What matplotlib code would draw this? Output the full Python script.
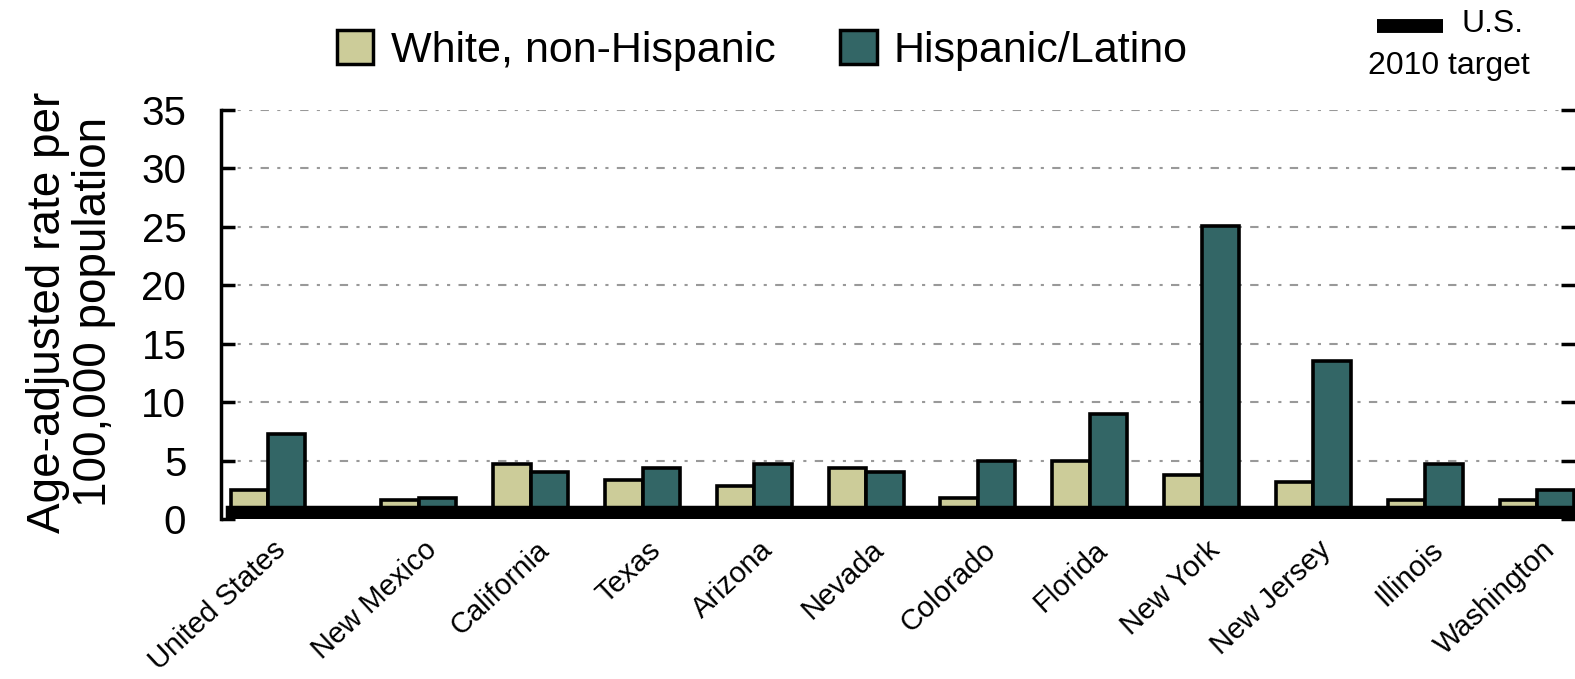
import matplotlib
matplotlib.use("Agg")
import matplotlib.pyplot as plt
import numpy as np
from matplotlib.patches import Patch

plt.rcParams['font.family'] = ['Liberation Sans', 'DejaVu Sans']

states = ['United States', 'New Mexico', 'California', 'Texas', 'Arizona', 'Nevada',
          'Colorado', 'Florida', 'New York', 'New Jersey', 'Illinois', 'Washington']
white_nh = [2.5, 1.6, 4.7, 3.35, 2.8, 4.35, 1.8, 5.0, 3.8, 3.2, 1.6, 1.6]
hispanic = [7.3, 1.8, 4.0, 4.4, 4.7, 4.0, 5.0, 9.0, 25.1, 13.5, 4.7, 2.5]
target = 1.0
yticks = [0, 5, 10, 15, 20, 25, 30, 35]

c_white = '#cccc99'
c_hisp = '#336666'

fig = plt.figure(figsize=(15.75, 6.79), dpi=100)
ax = fig.add_axes([221 / 1575, 1 - 519 / 679, 1 - 221 / 1575, (519 - 110) / 679])

# US sits a bit apart from the states
x = np.array([0.0] + [1.35 + k for k in range(len(states) - 1)])
w = 0.335
ax.bar(x - w / 2, white_nh, w, color=c_white, edgecolor='black', linewidth=2.6, zorder=2)
ax.bar(x + w / 2, hispanic, w, color=c_hisp, edgecolor='black', linewidth=2.6, zorder=2)

# 2010 target band
ax.axhspan(0, target, xmin=0.0045, xmax=1, facecolor='black', edgecolor='black',
           linewidth=2.5, zorder=3)

ax.set_xlim(-0.42, 11.69)
ax.set_ylim(0, 35)
ax.set_yticks(yticks)
ax.set_yticklabels([str(t) for t in yticks], fontsize=29)
ax.tick_params(axis='y', direction='in', length=10, width=2.5, pad=25, right=True)
ax.tick_params(axis='x', length=0, pad=12)

for t in yticks[1:]:
    ax.axhline(t, color='#999999', linewidth=1.5, linestyle=(0, (4, 4, 1.5, 4, 1.5, 4)), zorder=1)

ax.set_xticks(x + 0.04)
ax.set_xticklabels(states, rotation=43, ha='right', rotation_mode='anchor', fontsize=21)

for s in ['top', 'right', 'bottom']:
    ax.spines[s].set_visible(False)
ax.spines['left'].set_linewidth(2.5)

fig.text(0.045, 0.54, 'Age-adjusted rate per\n100,000 population', rotation=90,
         ha='center', va='center', fontsize=33, linespacing=1.08)

handles = [Patch(facecolor=c_white, edgecolor='black', linewidth=2.5, label='White, non-Hispanic'),
           Patch(facecolor=c_hisp, edgecolor='black', linewidth=2.5, label='Hispanic/Latino')]
fig.legend(handles=handles, loc='center', bbox_to_anchor=(0.484, 0.926), ncol=2,
           frameon=False, fontsize=31, handlelength=0.85, handleheight=0.85,
           handletextpad=0.4, columnspacing=1.5)

# target legend
fig.add_artist(plt.Line2D([1377 / 1575, 1443 / 1575], [1 - 26 / 679, 1 - 26 / 679],
                          color='black', linewidth=10, solid_capstyle='butt'))
fig.text(1462 / 1575, 1 - 24 / 679, 'U.S.', fontsize=23, ha='left', va='center')
fig.text(1449 / 1575, 1 - 66 / 679, '2010 target', fontsize=23, ha='center', va='center')

fig.savefig('out.png', dpi=100)
